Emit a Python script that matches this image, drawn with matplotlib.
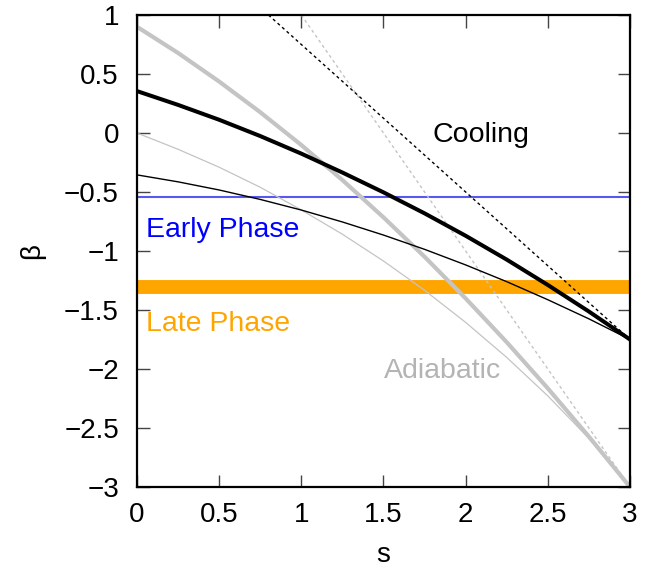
import matplotlib
matplotlib.use("Agg")
import matplotlib.pyplot as plt
from matplotlib.ticker import FuncFormatter

plt.rcParams['font.family'] = ['Liberation Sans', 'DejaVu Sans']

# ---- data ----
s_grid = [0, 0.25, 0.5, 0.75, 1, 1.25, 1.5, 1.75, 2, 2.25, 2.5, 2.75, 3]
cool_thick = [0.355, 0.238, 0.112, -0.026, -0.175, -0.335, -0.503, -0.681, -0.871, -1.073, -1.288, -1.513, -1.75]
cool_thin = [-0.355, -0.414, -0.483, -0.563, -0.653, -0.754, -0.865, -0.986, -1.118, -1.26, -1.413, -1.575, -1.75]
adia_thick = [0.9, 0.678, 0.436, 0.176, -0.102, -0.399, -0.715, -1.049, -1.402, -1.773, -2.164, -2.573, -3.0]
adia_thin = [0.0, -0.138, -0.29, -0.46, -0.652, -0.858, -1.085, -1.333, -1.605, -1.902, -2.228, -2.588, -3.0]
cool_limit_s = [0.8, 3.0]
cool_limit_b = [1.0, -1.75]
adia_limit_s = [1.0, 3.0]
adia_limit_b = [1.0, -3.0]
early_beta = -0.54
late_beta = -1.305

xticks = [0, 0.5, 1, 1.5, 2, 2.5, 3]
yticks = [1, 0.5, 0, -0.5, -1, -1.5, -2, -2.5, -3]

fig = plt.figure(figsize=(6.67, 5.81), dpi=100)
ax = fig.add_axes([0.2054, 0.1618, 0.7391, 0.8124])

gray = '#c4c4c4'
ax.axhline(late_beta, color='#ffa500', lw=10, zorder=1)
ax.axhline(early_beta, color='#5858f0', lw=1.5, zorder=1)
ax.plot(s_grid, adia_thin, color=gray, lw=0.9, zorder=2)
ax.plot(s_grid, adia_thick, color=gray, lw=3, zorder=2)
ax.plot(adia_limit_s, adia_limit_b, color=gray, lw=1.0, dashes=(2.2, 2.2), zorder=2)
ax.plot(cool_limit_s, cool_limit_b, color='black', lw=1.0, dashes=(2.2, 2.2), zorder=3)
ax.plot(s_grid, cool_thin, color='black', lw=1.0, zorder=3)
ax.plot(s_grid, cool_thick, color='black', lw=2.9, zorder=3)

ann = 20.5
ax.text(0.052, -0.82, 'Early Phase', color='blue', fontsize=ann, va='center', ha='left')
ax.text(0.052, -1.622, 'Late Phase', color='#ffa500', fontsize=ann, va='center', ha='left')
ax.text(1.86, -2.02, 'Adiabatic', color='#b4b4b4', fontsize=ann, va='center', ha='center')
ax.text(2.09, -0.02, 'Cooling', color='black', fontsize=ann, va='center', ha='center')

ax.set_xlim(0, 3)
ax.set_ylim(-3, 1)
ax.set_xticks(xticks)
ax.set_yticks(yticks)
fmt = FuncFormatter(lambda v, p: ('%g' % v).replace('-', '\u2212'))
ax.xaxis.set_major_formatter(fmt)
ax.yaxis.set_major_formatter(fmt)
ax.tick_params(direction='in', length=9, width=1, colors='#444444', labelcolor='black',
               labelsize=20, top=True, right=True)
ax.tick_params(axis='x', pad=11)
ax.tick_params(axis='y', pad=13)
for sp in ax.spines.values():
    sp.set_linewidth(1.6)
    sp.set_color('black')
ax.set_xlabel('s', fontsize=20, labelpad=10)
ax.set_ylabel('\u03b2', fontsize=20, labelpad=14)

fig.savefig('out.png', dpi=100)
